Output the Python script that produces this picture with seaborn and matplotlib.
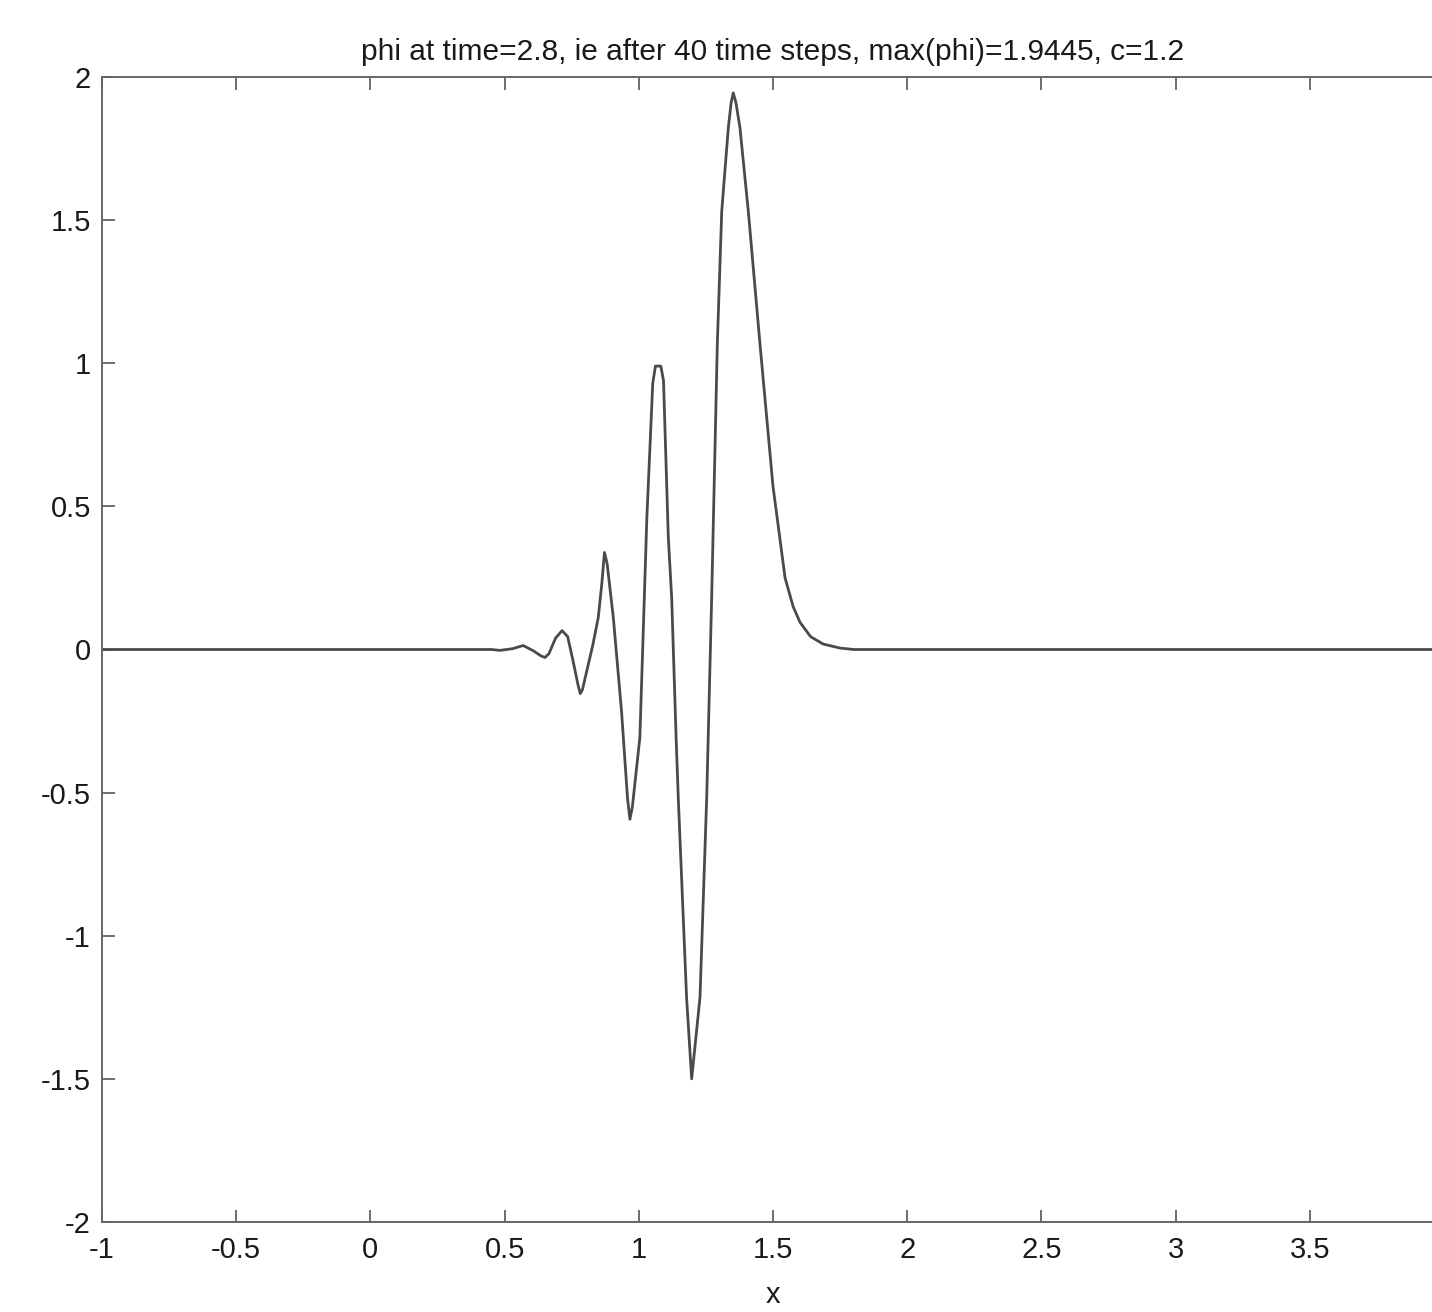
import numpy as np
import pandas as pd
import seaborn as sns
import matplotlib
matplotlib.use("Agg")
import matplotlib.pyplot as plt

# phi values (x positions and heights)
x_vals = [-1.0, 0.40, 0.45, 0.483, 0.531, 0.569, 0.606, 0.635, 0.650, 0.665, 0.690,
          0.714, 0.735, 0.755, 0.775, 0.782, 0.790, 0.829, 0.849, 0.862, 0.872,
          0.882, 0.905, 0.936, 0.958, 0.967, 0.976, 1.004, 1.030, 1.052, 1.062,
          1.082, 1.092, 1.110, 1.1225, 1.139, 1.147, 1.178, 1.197, 1.228, 1.253,
          1.2715, 1.2925, 1.309, 1.3335, 1.344, 1.352, 1.362, 1.377, 1.408, 1.4516,
          1.500, 1.545, 1.575, 1.6006, 1.640, 1.687, 1.750, 1.80, 4.0]
phi_vals = [0.0, 0.0, 0.0, -0.003, 0.003, 0.014, -0.004, -0.022, -0.028, -0.015, 0.040,
            0.066, 0.045, -0.040, -0.13, -0.154, -0.14, 0.017, 0.112, 0.228, 0.339,
            0.30, 0.112, -0.22, -0.52, -0.593, -0.55, -0.307, 0.46, 0.93, 0.99,
            0.99, 0.94, 0.391, 0.181, -0.307, -0.517, -1.215, -1.50, -1.215, -0.517,
            0.181, 1.066, 1.531, 1.822, 1.91, 1.9445, 1.91, 1.822, 1.531, 1.066,
            0.57, 0.25, 0.15, 0.095, 0.045, 0.019, 0.005, 0.0, 0.0]

x_ticks = [-1, -0.5, 0, 0.5, 1, 1.5, 2, 2.5, 3, 3.5]
x_ticklabels = ["-1", "-0.5", "0", "0.5", "1", "1.5", "2", "2.5", "3", "3.5"]
y_ticks = [-2, -1.5, -1, -0.5, 0, 0.5, 1, 1.5, 2]
y_ticklabels = ["-2", "-1.5", "-1", "-0.5", "0", "0.5", "1", "1.5", "2"]

title = "phi at time=2.8, ie after 40 time steps, max(phi)=1.9445, c=1.2"

df = pd.DataFrame({"x": x_vals, "phi": phi_vals})

sns.set_style("ticks")
plt.rcParams["font.family"] = ["Liberation Sans", "DejaVu Sans"]

fig = plt.figure(figsize=(14.32, 13.12), dpi=100)
ax = fig.add_axes([102 / 1432, 90 / 1312, 1342 / 1432, 1145 / 1312])

sns.lineplot(data=df, x="x", y="phi", estimator=None, sort=False,
             color="#4a4a4a", linewidth=2.0, ax=ax)

ax.set_xlim(-1, 4)
ax.set_ylim(-2, 2)
ax.set_xticks(x_ticks)
ax.set_xticklabels(x_ticklabels)
ax.set_yticks(y_ticks)
ax.set_yticklabels(y_ticklabels)
ax.tick_params(direction="in", top=True, right=True, length=9, width=1.2,
               colors="#555555", labelcolor="#1a1a1a", labelsize=21)
ax.tick_params(axis="x", pad=10)
ax.tick_params(axis="y", pad=8)
for s in ax.spines.values():
    s.set_color("#666666")
    s.set_linewidth(1.4)

ax.set_title(title, fontsize=21.5, color="#1a1a1a", pad=12)
ax.set_xlabel("x", fontsize=21, color="#1a1a1a", labelpad=12)
ax.set_ylabel("")

fig.savefig("out.png", dpi=100)
